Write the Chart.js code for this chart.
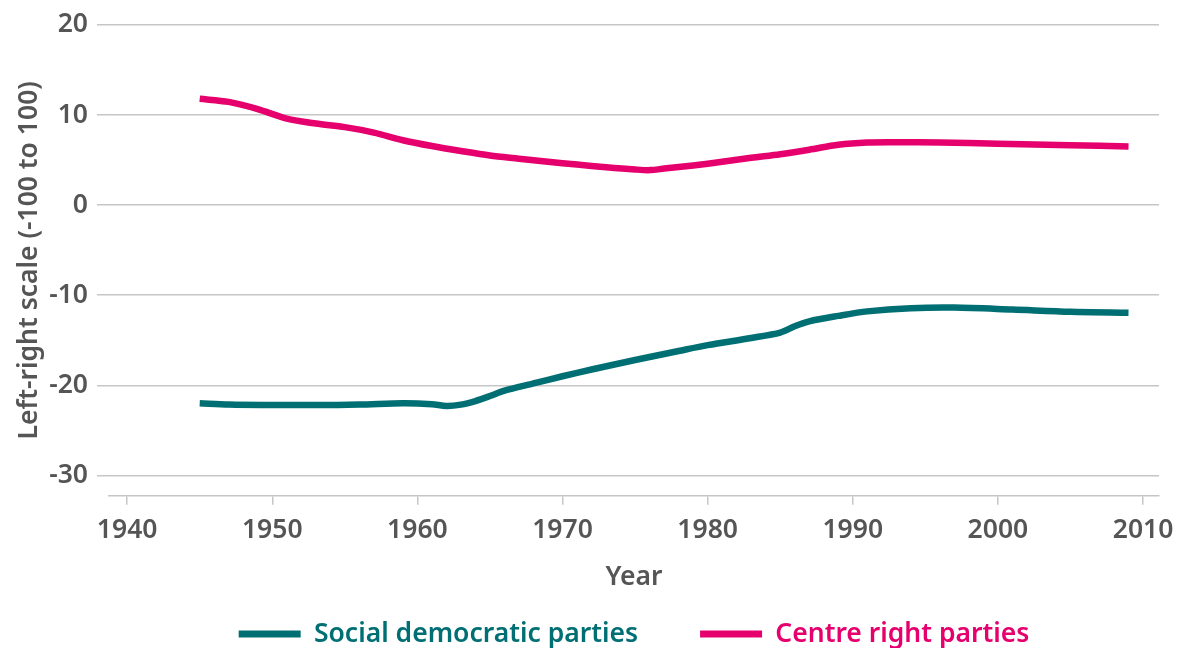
<!DOCTYPE html>
<html>
<head>
<meta charset="utf-8">
<script src="https://cdn.jsdelivr.net/npm/chart.js@4"></script>
<style>
  html, body { margin: 0; padding: 0; background: #ffffff; }
  #wrap { width: 1181px; height: 648px; }
</style>
</head>
<body>
<div id="wrap"><canvas id="c" width="1181" height="648"></canvas></div>
<script>
// ---- data ----
const sdYears  = [1945, 1947, 1950, 1953, 1956, 1959, 1961, 1962, 1963, 1964, 1965, 1966, 1968, 1970, 1972, 1975, 1978, 1980, 1983, 1985, 1986, 1987, 1989, 1991, 1994, 1997, 2001, 2005, 2009];
const sdValues = [-22.0, -22.15, -22.2, -22.2, -22.15, -22.0, -22.1, -22.3, -22.15, -21.75, -21.2, -20.6, -19.8, -19.0, -18.25, -17.2, -16.2, -15.55, -14.75, -14.15, -13.45, -12.9, -12.3, -11.8, -11.45, -11.38, -11.6, -11.85, -11.96];

const crYears  = [1945, 1947, 1949, 1951, 1953, 1955, 1957, 1959, 1961, 1963, 1965, 1967, 1969, 1971, 1973, 1975, 1976, 1977, 1979, 1981, 1983, 1985, 1987, 1989, 1991, 1993, 1996, 2000, 2005, 2009];
const crValues = [11.8, 11.45, 10.65, 9.6, 9.05, 8.65, 8.05, 7.2, 6.55, 6.0, 5.5, 5.15, 4.8, 4.5, 4.2, 3.95, 3.88, 4.05, 4.4, 4.8, 5.25, 5.65, 6.15, 6.7, 6.95, 6.98, 6.95, 6.82, 6.65, 6.5];

const seriesNames = ['Social democratic parties', 'Centre right parties'];
const seriesColors = ['#006f73', '#e5006d'];
const xTickValues = [1940, 1950, 1960, 1970, 1980, 1990, 2000, 2010];
const yTickValues = [-30, -20, -10, 0, 10, 20];
const xTitle = 'Year';
const yTitle = 'Left-right scale (-100 to 100)';

const toPoints = (xs, ys) => xs.map((x, i) => ({ x: x, y: ys[i] }));

const FONT = 'Noto Sans';
const WEIGHT = 600;
const FSIZE = 26.5;
const TEXT = '#555555';
const GRID = '#c6c6c6';
const LEGEND_CENTER_Y = 634;
const LEGEND_PAD = 62;

const legendPlace = {
  id: 'legendPlace',
  afterLayout(chart) {
    const lg = chart.legend, ca = chart.chartArea;
    if (!lg) return;
    const h = lg.height;
    lg.left = ca.left; lg.right = ca.right; lg.width = ca.right - ca.left;
    lg.top = LEGEND_CENTER_Y - LEGEND_PAD - FSIZE / 2;
    lg.bottom = lg.top + h;
  }
};

new Chart(document.getElementById('c'), {
  type: 'line',
  data: {
    datasets: [
      { label: seriesNames[0], data: toPoints(sdYears, sdValues), borderColor: seriesColors[0], backgroundColor: seriesColors[0] },
      { label: seriesNames[1], data: toPoints(crYears, crValues), borderColor: seriesColors[1], backgroundColor: seriesColors[1] }
    ]
  },
  options: {
    responsive: false,
    animation: false,
    devicePixelRatio: 1,
    layout: { padding: { left: 14, right: 22, top: 24, bottom: 0 } },
    elements: {
      line: { borderWidth: 6.5, tension: 0.3, borderCapStyle: 'butt', borderJoinStyle: 'round', fill: false },
      point: { radius: 0, hoverRadius: 0 }
    },
    scales: {
      x: {
        type: 'linear',
        min: 1938.75,
        max: 2011.1,
        afterBuildTicks(scale) { scale.ticks = xTickValues.map(v => ({ value: v })); },
        afterFit(scale) { scale.height = 53.8; scale.paddingLeft = 0; scale.paddingRight = 0; },
        ticks: { font: { family: FONT, size: FSIZE, weight: WEIGHT }, color: TEXT, padding: 10, maxRotation: 0, callback: v => String(v) },
        grid: { drawOnChartArea: false, drawTicks: true, tickLength: 9, color: GRID, lineWidth: 1.5 },
        border: { display: true, color: GRID, width: 1.5 },
        title: { display: true, text: xTitle, font: { family: FONT, size: FSIZE, weight: WEIGHT }, color: TEXT, padding: { top: 0, bottom: -44 } }
      },
      y: {
        min: -32.26,
        max: 20,
        afterBuildTicks(scale) { scale.ticks = yTickValues.map(v => ({ value: v })); },
        afterFit(scale) { scale.width = 95; },
        ticks: { font: { family: FONT, size: FSIZE, weight: WEIGHT }, color: TEXT, padding: 9 },
        grid: { drawTicks: true, tickLength: 12, color: GRID, lineWidth: 1.5 },
        border: { display: false },
        title: { display: true, text: yTitle, font: { family: FONT, size: FSIZE, weight: WEIGHT }, color: TEXT, padding: { top: 0, bottom: 0 } }
      }
    },
    plugins: {
      tooltip: { enabled: false },
      legend: {
        display: true,
        position: 'bottom',
        labels: {
          boxWidth: 62,
          boxHeight: 7,
          padding: LEGEND_PAD,
          font: { family: FONT, size: FSIZE, weight: WEIGHT },
          generateLabels(chart) {
            return chart.data.datasets.map((ds, i) => ({
              text: ds.label,
              fillStyle: ds.borderColor,
              strokeStyle: ds.borderColor,
              fontColor: ds.borderColor,
              lineWidth: 0,
              hidden: false,
              datasetIndex: i
            }));
          }
        }
      }
    }
  },
  plugins: [legendPlace]
});
</script>
</body>
</html>
